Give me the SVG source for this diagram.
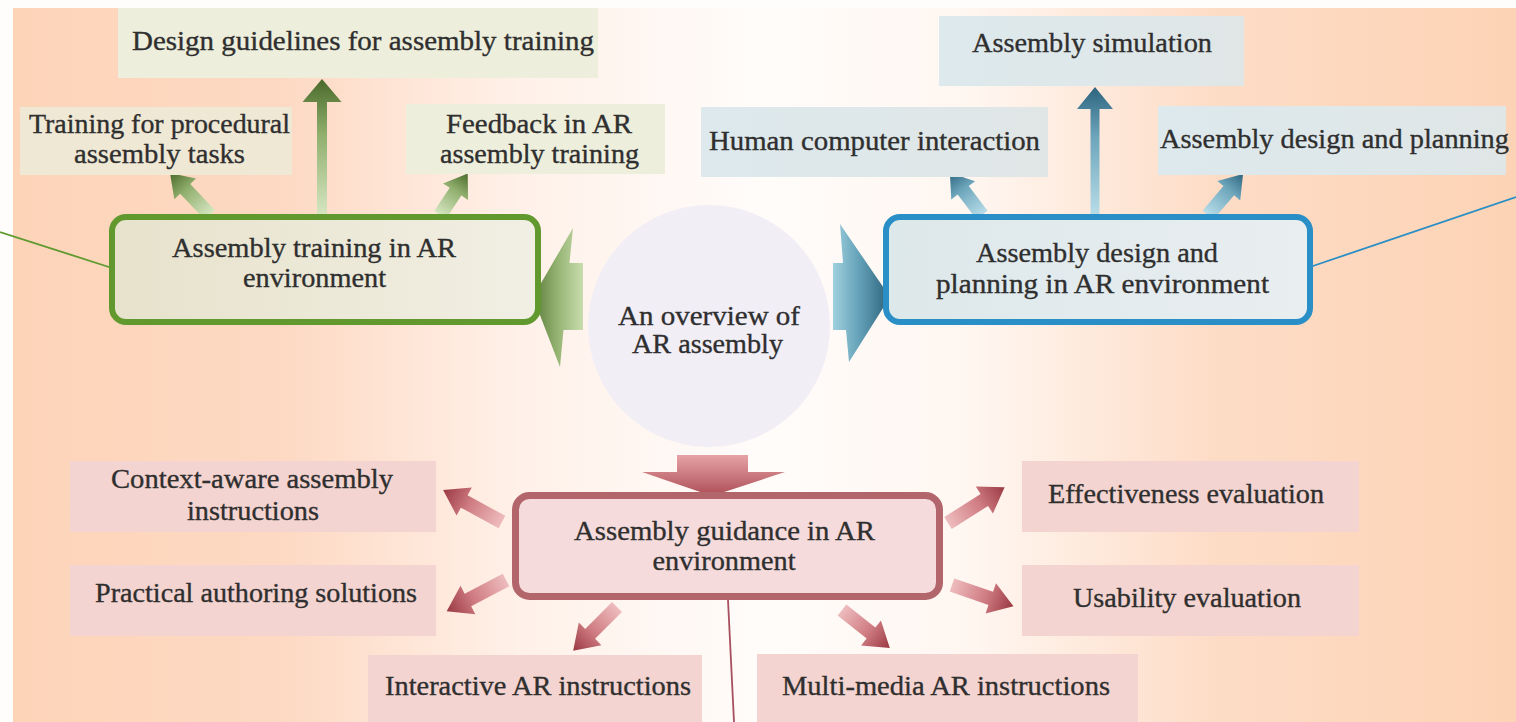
<svg xmlns="http://www.w3.org/2000/svg" width="1516" height="722" viewBox="0 0 1516 722">
<defs>
<linearGradient id="bg" x1="0" y1="0" x2="1" y2="0">
<stop offset="0" stop-color="#fdd4b8"/>
<stop offset="0.18" stop-color="#fdd9c3"/>
<stop offset="0.34" stop-color="#fff1e9"/>
<stop offset="0.5" stop-color="#fffcfa"/>
<stop offset="0.64" stop-color="#fff6f0"/>
<stop offset="0.8" stop-color="#fddcc6"/>
<stop offset="1" stop-color="#fdd3b5"/>
</linearGradient>
<linearGradient id="gArrow" x1="0" y1="1" x2="0" y2="0">
<stop offset="0" stop-color="#d6e6c2"/>
<stop offset="0.6" stop-color="#8fae6c"/>
<stop offset="1" stop-color="#4a6a2b"/>
</linearGradient>
<linearGradient id="bArrow" x1="0" y1="1" x2="0" y2="0">
<stop offset="0" stop-color="#b8dde8"/>
<stop offset="0.6" stop-color="#6ea6bc"/>
<stop offset="1" stop-color="#2d6580"/>
</linearGradient>
<linearGradient id="rArrow" x1="0" y1="1" x2="0" y2="0">
<stop offset="0" stop-color="#eebcbe"/>
<stop offset="0.55" stop-color="#cf7c82"/>
<stop offset="1" stop-color="#9a3942"/>
</linearGradient>
<linearGradient id="gBig" x1="0" y1="0" x2="1" y2="0">
<stop offset="0" stop-color="#5b7c3a"/>
<stop offset="0.5" stop-color="#96b574"/>
<stop offset="1" stop-color="#c9dcae"/>
</linearGradient>
<linearGradient id="bBig" x1="0" y1="0" x2="1" y2="0">
<stop offset="0" stop-color="#9fd0de"/>
<stop offset="0.5" stop-color="#5f9db4"/>
<stop offset="1" stop-color="#2a6078"/>
</linearGradient>
<linearGradient id="rBig" x1="0" y1="0" x2="0" y2="1">
<stop offset="0" stop-color="#e6a3a6"/>
<stop offset="1" stop-color="#ad4d56"/>
</linearGradient>
<linearGradient id="gBox" x1="0" y1="0" x2="1" y2="0">
<stop offset="0" stop-color="#e7e2cb"/>
<stop offset="1" stop-color="#f1efe4"/>
</linearGradient>
<linearGradient id="bBox" x1="0" y1="0" x2="1" y2="0">
<stop offset="0" stop-color="#dde8eb"/>
<stop offset="1" stop-color="#e9eef0"/>
</linearGradient>
<linearGradient id="bSub" x1="0" y1="0" x2="1" y2="0">
<stop offset="0" stop-color="#dde9ed"/>
<stop offset="1" stop-color="#e0e6e6"/>
</linearGradient>
</defs>
<style>
text{font-family:"Liberation Serif","Times New Roman",serif;font-size:28px;fill:#2f2f2f;stroke:#2f2f2f;stroke-width:0.35;text-anchor:middle}
.gsub{fill:#edeedb}
.bsub{fill:url(#bSub)}
.rsub{fill:#f4d4d0}
.gmain{fill:url(#gBox);stroke:#62992f;stroke-width:6}
.bmain{fill:url(#bBox);stroke:#2a8fc6;stroke-width:6}
.rmain{fill:#f5dbdb;stroke:#b3656c;stroke-width:7}
.ga{fill:url(#gArrow)}
.ba{fill:url(#bArrow)}
.ra{fill:url(#rArrow)}
.lead{fill:none;stroke-width:1.8}
</style>
<rect x="0" y="0" width="1516" height="722" fill="#fffdfb"/>
<rect x="13" y="8" width="1503" height="714" fill="url(#bg)"/>

<g id="connectors">
<line class="lead" x1="0" y1="232" x2="112" y2="268" stroke="#5e9a2e"/>
<line class="lead" x1="1310" y1="267" x2="1516" y2="197" stroke="#2a8fc4"/>
<line class="lead" x1="728" y1="600" x2="734" y2="722" stroke="#a85060"/>
<polygon class="ga" transform="translate(322,215)" points="-5,0 -5,-113 -19.5,-113 0,-136 19.5,-113 5,-113 5,0"/>
<polygon class="ga" transform="translate(210,215) rotate(-43.6)" points="-7,0 -7,-36 -15,-36 0,-58 15,-36 7,-36 7,0"/>
<polygon class="ga" transform="translate(440,215) rotate(33.7)" points="-7,0 -7,-28 -15,-28 0,-50 15,-28 7,-28 7,0"/>
<polygon class="ba" transform="translate(1095,215)" points="-4.5,0 -4.5,-106 -18,-106 0,-128 18,-106 4.5,-106 4.5,0"/>
<polygon class="ba" transform="translate(982,215) rotate(-37.3)" points="-7,0 -7,-31 -15,-31 0,-53 15,-31 7,-31 7,0"/>
<polygon class="ba" transform="translate(1208,215) rotate(40.5)" points="-7,0 -7,-32 -15,-32 0,-54 15,-32 7,-32 7,0"/>
<polygon class="ra" transform="translate(502,522) rotate(-61.5)" points="-7,0 -7,-43 -16,-43 0,-67 16,-43 7,-43 7,0"/>
<polygon class="ra" transform="translate(506,580) rotate(-117.7)" points="-7,0 -7,-43 -16,-43 0,-67 16,-43 7,-43 7,0"/>
<polygon class="ra" transform="translate(617,607) rotate(-135)" points="-7,0 -7,-38 -16,-38 0,-62 16,-38 7,-38 7,0"/>
<polygon class="ra" transform="translate(948,523) rotate(57.7)" points="-7,0 -7,-43 -16,-43 0,-67 16,-43 7,-43 7,0"/>
<polygon class="ra" transform="translate(952,585) rotate(109)" points="-7,0 -7,-41 -16,-41 0,-65 16,-41 7,-41 7,0"/>
<polygon class="ra" transform="translate(842,610) rotate(128.4)" points="-7,0 -7,-37 -16,-37 0,-61 16,-37 7,-37 7,0"/>
<polygon fill="url(#gBig)" points="583,263 569.5,263 573,228 533,297 560,367 563.5,330 583,330"/>
<polygon fill="url(#bBig)" points="833,263 843,263 840,224 890,297 849,362 846,330 833,330"/>
<polygon fill="url(#rBig)" points="677,455 748,455 748,472 785,472 712,496 642,472 677,472"/>
</g>

<g id="center">
<circle cx="709" cy="326" r="121" fill="#f1eef6"/>
<text x="709" y="325" textLength="182" lengthAdjust="spacingAndGlyphs">An overview of</text>
<text x="707.5" y="353" textLength="151" lengthAdjust="spacingAndGlyphs">AR assembly</text>
</g>

<g id="training">
<rect class="gmain" x="112" y="217" width="426" height="105" rx="14"/>
<text x="314" y="257" textLength="284" lengthAdjust="spacingAndGlyphs">Assembly training in AR</text>
<text x="314.5" y="287" textLength="143" lengthAdjust="spacingAndGlyphs">environment</text>
</g>
<g id="design-guidelines">
<rect class="gsub" x="118" y="8" width="480" height="70"/>
<text x="363" y="50" textLength="462" lengthAdjust="spacingAndGlyphs">Design guidelines for assembly training</text>
</g>
<g id="procedural">
<rect x="20" y="107" width="272" height="68" fill="#efe8d5"/>
<text x="159.5" y="133" textLength="261" lengthAdjust="spacingAndGlyphs">Training for procedural</text>
<text x="159.5" y="163" textLength="171" lengthAdjust="spacingAndGlyphs">assembly tasks</text>
</g>
<g id="feedback">
<rect class="gsub" x="406" y="104" width="259" height="70"/>
<text x="539" y="133" textLength="186" lengthAdjust="spacingAndGlyphs">Feedback in AR</text>
<text x="539.5" y="163" textLength="199" lengthAdjust="spacingAndGlyphs">assembly training</text>
</g>

<g id="design-planning">
<rect class="bmain" x="886" y="217" width="424" height="105" rx="14"/>
<text x="1097" y="262" textLength="242" lengthAdjust="spacingAndGlyphs">Assembly design and</text>
<text x="1102.5" y="293" textLength="333" lengthAdjust="spacingAndGlyphs">planning in AR environment</text>
</g>
<g id="simulation">
<rect class="bsub" x="939" y="16" width="305" height="70"/>
<text x="1092" y="52" textLength="240" lengthAdjust="spacingAndGlyphs">Assembly simulation</text>
</g>
<g id="hci">
<rect class="bsub" x="701" y="107" width="347" height="70"/>
<text x="874.5" y="150" textLength="331" lengthAdjust="spacingAndGlyphs">Human computer interaction</text>
</g>
<g id="adp">
<rect class="bsub" x="1158" y="106" width="348" height="69"/>
<text x="1334.5" y="148" textLength="349" lengthAdjust="spacingAndGlyphs">Assembly design and planning</text>
</g>

<g id="guidance">
<rect class="rmain" x="515.5" y="495.5" width="424" height="101" rx="14"/>
<text x="724.5" y="540" textLength="301" lengthAdjust="spacingAndGlyphs">Assembly guidance in AR</text>
<text x="724" y="570" textLength="143" lengthAdjust="spacingAndGlyphs">environment</text>
</g>
<g id="context-aware">
<rect class="rsub" x="70" y="461" width="366" height="71"/>
<text x="252" y="488" textLength="282" lengthAdjust="spacingAndGlyphs">Context-aware assembly</text>
<text x="253" y="520" textLength="132" lengthAdjust="spacingAndGlyphs">instructions</text>
</g>
<g id="authoring">
<rect class="rsub" x="70" y="565" width="366" height="71"/>
<text x="256" y="602" textLength="322" lengthAdjust="spacingAndGlyphs">Practical authoring solutions</text>
</g>
<g id="interactive">
<rect class="rsub" x="368" y="655" width="334" height="67"/>
<text x="538" y="695" textLength="306" lengthAdjust="spacingAndGlyphs">Interactive AR instructions</text>
</g>
<g id="multimedia">
<rect class="rsub" x="757" y="654" width="381" height="68"/>
<text x="946" y="695" textLength="328" lengthAdjust="spacingAndGlyphs">Multi-media AR instructions</text>
</g>
<g id="effectiveness">
<rect class="rsub" x="1022" y="461" width="337" height="71"/>
<text x="1186" y="503" textLength="276" lengthAdjust="spacingAndGlyphs">Effectiveness evaluation</text>
</g>
<g id="usability">
<rect class="rsub" x="1022" y="565" width="337" height="71"/>
<text x="1187" y="607" textLength="228" lengthAdjust="spacingAndGlyphs">Usability evaluation</text>
</g>
</svg>
